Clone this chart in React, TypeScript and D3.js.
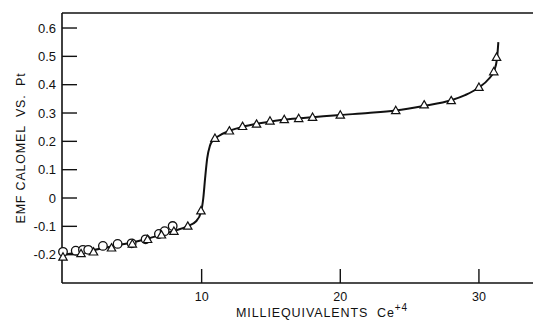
import React from "react";
import * as d3 from "d3";

// Titration of Fe(II) with Ce(IV): EMF (calomel vs. Pt) against milliequivalents of Ce+4
const circleX = [0, 0.92, 1.44, 1.82, 2.88, 3.94, 4.95, 5.96, 6.92, 7.33, 7.91];
const circleY = [-0.19, -0.186, -0.183, -0.183, -0.169, -0.162, -0.16, -0.146, -0.127, -0.117, -0.099];

const triangleX = [0, 1.3, 2.2, 3.5, 5.0, 6.1, 7.1, 8.0, 9.0, 9.95, 10.96, 12.0, 12.95, 13.96, 14.93, 15.96, 17.0, 18.0, 20.0, 24.0, 26.05, 28.0, 30.0, 31.07, 31.27];
const triangleY = [-0.208, -0.196, -0.19, -0.176, -0.162, -0.146, -0.13, -0.117, -0.099, -0.045, 0.211, 0.237, 0.253, 0.261, 0.272, 0.277, 0.281, 0.285, 0.293, 0.309, 0.329, 0.344, 0.391, 0.446, 0.497];

// Hand-drawn smooth curve through the measurements
const curveX = [0, 1, 2, 3, 4, 5, 6, 7, 8, 9, 9.6, 9.95, 10.12, 10.25, 10.4, 10.6, 10.85, 11.2, 12, 13, 14, 15, 16, 18, 20, 22, 24, 26, 28, 29, 30, 30.7, 31.1, 31.3, 31.4];
const curveY = [-0.2, -0.193, -0.186, -0.176, -0.166, -0.157, -0.145, -0.131, -0.116, -0.099, -0.082, -0.05, 0.0, 0.07, 0.14, 0.185, 0.205, 0.218, 0.237, 0.252, 0.262, 0.27, 0.277, 0.285, 0.293, 0.3, 0.309, 0.325, 0.345, 0.363, 0.39, 0.42, 0.45, 0.49, 0.55];

const yTicks = [-0.2, -0.1, 0, 0.1, 0.2, 0.3, 0.4, 0.5, 0.6];
const yTickLabels = ["-0.2", "-0.1", "0", "0.1", "0.2", "0.3", "0.4", "0.5", "0.6"];
const xTicks = [10, 20, 30];

export default function App() {
  const W = 534;
  const H = 325;
  const left = 62;
  const right = 533;
  const top = 13;
  const bottom = 283;

  const x = d3.scaleLinear().domain([0, 33.9]).range([63, right]);
  const y = d3.scaleLinear().domain([-0.3, 0.653]).range([bottom, top]);

  const line = d3
    .line<number>()
    .x((_, i) => x(curveX[i]))
    .y((_, i) => y(curveY[i]))
    .curve(d3.curveMonotoneX);

  const tri = (cx: number, cy: number) => {
    const s = 4.2;
    return `M${cx},${cy - s}L${cx + s},${cy + s * 0.75}L${cx - s},${cy + s * 0.75}Z`;
  };

  const font = "'Liberation Sans', Arial, sans-serif";

  return (
    <div style={{ position: "absolute", left: 0, top: 0 }}>
      <svg width={W} height={H} style={{ display: "block", background: "#fff" }}>
        {/* frame: left, top, bottom */}
        <g stroke="#111" strokeWidth={1.6} fill="none">
          <line x1={left} y1={top} x2={left} y2={bottom} />
          <line x1={left} y1={top} x2={right} y2={top} />
          <line x1={left} y1={bottom} x2={right} y2={bottom} />
        </g>

        {/* y ticks */}
        {yTicks.map((t, i) => (
          <g key={"y" + i}>
            <line x1={left} x2={left + 15} y1={y(t)} y2={y(t)} stroke="#111" strokeWidth={1.4} />
            <text
              x={56}
              y={y(t)}
              dy="0.36em"
              textAnchor="end"
              fontFamily={font}
              fontSize={13}
              fill="#111"
            >
              {yTickLabels[i]}
            </text>
          </g>
        ))}

        {/* x ticks */}
        {xTicks.map((t) => (
          <g key={"x" + t}>
            <line x1={x(t)} x2={x(t)} y1={bottom} y2={bottom - 14} stroke="#111" strokeWidth={1.4} />
            <text x={x(t)} y={301} textAnchor="middle" fontFamily={font} fontSize={12.5} fill="#111">
              {t}
            </text>
          </g>
        ))}

        {/* axis titles */}
        <text
          transform={`translate(25,148) rotate(-90)`}
          textAnchor="middle"
          fontFamily={font}
          fontSize={12.5}
          letterSpacing={0.8}
          fill="#111"
          style={{ whiteSpace: "pre" }}
        >
          {"EMF CALOMEL  VS.  Pt"}
        </text>
        <text
          x={236}
          y={317}
          fontFamily={font}
          fontSize={12.5}
          letterSpacing={0.9}
          fill="#111"
          style={{ whiteSpace: "pre" }}
        >
          {"MILLIEQUIVALENTS  Ce"}
          <tspan dy={-6} fontSize={10}>
            +4
          </tspan>
        </text>

        {/* fitted curve */}
        <path d={line(curveX) || ""} fill="none" stroke="#111" strokeWidth={2} />

        {/* measurements */}
        {circleX.map((cx, i) => (
          <circle
            key={"c" + i}
            cx={x(cx)}
            cy={y(circleY[i])}
            r={4.3}
            fill="#fff"
            stroke="#111"
            strokeWidth={1.3}
          />
        ))}
        {triangleX.map((tx, i) => (
          <path
            key={"t" + i}
            d={tri(x(tx), y(triangleY[i]))}
            fill="#fff"
            stroke="#111"
            strokeWidth={1.2}
          />
        ))}
      </svg>
    </div>
  );
}
